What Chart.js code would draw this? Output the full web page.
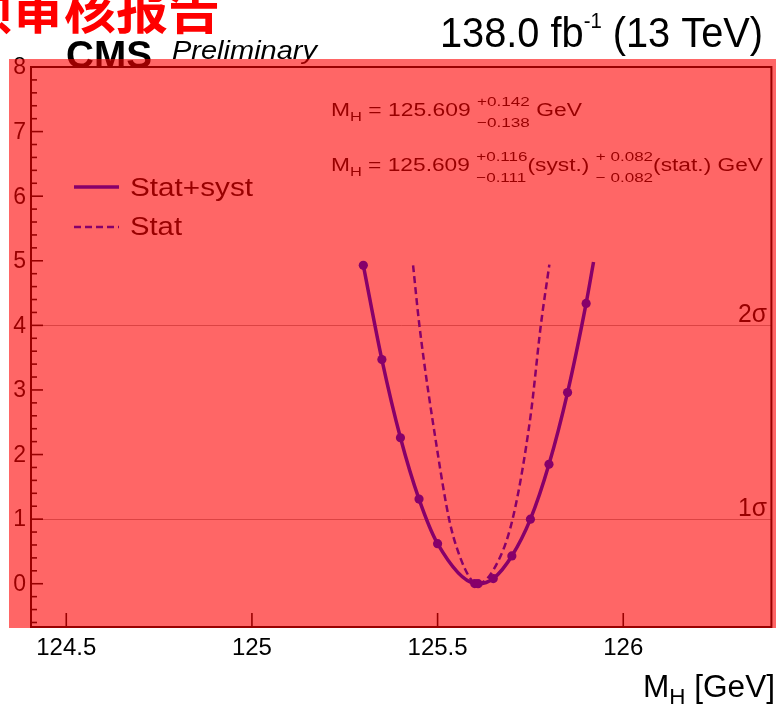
<!DOCTYPE html>
<html>
<head>
<meta charset="utf-8">
<script src="https://cdn.jsdelivr.net/npm/chart.js@4.4.0/dist/chart.umd.min.js"></script>
<style>
  html, body { margin: 0; padding: 0; background: #fff; }
  #wrap { width: 776px; height: 709px; }
</style>
</head>
<body>
<div id="wrap"><canvas id="nllChart" width="776" height="709"></canvas></div>
<script>
// =============================
// DATA
// =============================

// likelihood scan, stat+syst (last entry is the end of the curve, no marker)
const scanMass = [125.30, 125.35, 125.40, 125.45, 125.50, 125.60, 125.609, 125.65, 125.70, 125.75, 125.80, 125.85, 125.90, 125.92];
const scanNll  = [4.93, 3.47, 2.26, 1.31, 0.62, 0.003, 0.0, 0.08, 0.43, 1.00, 1.85, 2.96, 4.34, 4.98];
const scanMarker = [1, 1, 1, 1, 1, 1, 1, 1, 1, 1, 1, 1, 1, 0];

// stat-only scan
const statMass = [125.434, 125.451, 125.499, 125.531, 125.555, 125.593, 125.607, 125.651, 125.702, 125.750, 125.778, 125.801];
const statNll  = [4.93, 4.00, 2.07, 1.00, 0.50, 0.04, 0.00, 0.22, 1.00, 2.58, 4.00, 4.94];

const xTicks = [124.5, 125, 125.5, 126];
const yTicks = [0, 1, 2, 3, 4, 5, 6, 7, 8];
const sigmaLevels = [1, 4];
const sigmaLabels = ['1σ', '2σ'];

const xRange = [124.405, 126.399];
const yRange = [-0.67, 8];

const PURPLE = '#87006a';
const FONT = "'Liberation Sans', Arial, sans-serif";


// =============================
// TEXT HELPERS
// =============================

function fontOf(s) {
  return (s.style || '') + ' ' + s.size + 'px ' + FONT;
}

function segWidth(ctx, s) {
  ctx.font = fontOf(s);
  if (s.up !== undefined) {
    return Math.max(ctx.measureText(s.up).width, ctx.measureText(s.down).width);
  }
  return ctx.measureText(s.text).width;
}

// draws a run of text pieces (sub/superscripts, stacked errors), stretched to a given width
function drawRich(ctx, segs, x, y, width, align) {
  const natural = segs.reduce((w, s) => w + segWidth(ctx, s), 0);
  const sx = width ? width / natural : 1;
  ctx.save();
  ctx.translate(align === 'right' ? x - natural * sx : x, y);
  ctx.scale(sx, 1);
  ctx.textAlign = 'left';
  ctx.textBaseline = 'alphabetic';
  let cx = 0;
  segs.forEach(s => {
    const w = segWidth(ctx, s);
    ctx.font = fontOf(s);
    if (s.up !== undefined) {
      ctx.fillText(s.up, cx, s.dyUp);
      ctx.fillText(s.down, cx, s.dyDown);
    } else {
      ctx.fillText(s.text, cx, s.dy || 0);
    }
    cx += w;
  });
  ctx.restore();
}


// =============================
// FRAME, AXES AND LABELS
// =============================

const framePlugin = {
  id: 'rootFrame',

  beforeDatasetsDraw(chart) {
    const { ctx, chartArea: area, scales: { x, y } } = chart;
    ctx.save();

    // 1 and 2 sigma lines
    ctx.strokeStyle = '#a8a8a8';
    ctx.lineWidth = 1;
    sigmaLevels.forEach((lvl, i) => {
      const py = Math.round(y.getPixelForValue(lvl)) + 0.5;
      ctx.beginPath();
      ctx.moveTo(area.left, py);
      ctx.lineTo(area.right, py);
      ctx.stroke();
      ctx.fillStyle = '#000';
      drawRich(ctx, [{ text: sigmaLabels[i], size: 25 }], 767, py - 4, 29, 'right');
    });

    // frame
    ctx.strokeStyle = '#000';
    ctx.lineWidth = 2;
    ctx.strokeRect(area.left, area.top, area.right - area.left, area.bottom - area.top);

    // y ticks, minor every 0.2
    ctx.lineWidth = 1.6;
    for (let k = Math.ceil(yRange[0] * 5); k <= yRange[1] * 5; k++) {
      const py = y.getPixelForValue(k / 5);
      const len = k % 5 === 0 ? 12 : 6;
      ctx.beginPath();
      ctx.moveTo(area.left, py);
      ctx.lineTo(area.left + len, py);
      ctx.stroke();
    }

    // x ticks
    xTicks.forEach(v => {
      const px = x.getPixelForValue(v);
      ctx.beginPath();
      ctx.moveTo(px, area.bottom);
      ctx.lineTo(px, area.bottom - 14);
      ctx.stroke();
    });

    // tick labels
    ctx.fillStyle = '#000';
    ctx.font = '23px ' + FONT;
    ctx.textAlign = 'right';
    ctx.textBaseline = 'middle';
    yTicks.forEach(v => ctx.fillText(String(v), 26, y.getPixelForValue(v) + 1));

    ctx.font = '24px ' + FONT;
    ctx.textAlign = 'center';
    ctx.textBaseline = 'alphabetic';
    xTicks.forEach(v => ctx.fillText(String(v), x.getPixelForValue(v), 655));

    // axis title
    drawRich(ctx, [
      { text: 'M', size: 31 },
      { text: 'H', size: 22, dy: 7 },
      { text: ' [GeV]', size: 31 }
    ], 775, 697, 132, 'right');

    // CMS Preliminary
    drawRich(ctx, [{ text: 'CMS', size: 39, style: 'bold' }], 66, 68, 86);
    drawRich(ctx, [{ text: 'Preliminary', size: 25, style: 'italic' }], 172, 59, 145);

    // luminosity
    drawRich(ctx, [
      { text: '138.0 fb', size: 43 },
      { text: '-1', size: 22, dy: -19 },
      { text: ' (13 TeV)', size: 43 }
    ], 763, 47, 323, 'right');

    // fit results
    drawRich(ctx, [
      { text: 'M', size: 18 },
      { text: 'H', size: 13, dy: 5 },
      { text: ' = 125.609 ', size: 18 },
      { up: '+0.142', down: '\u22120.138', size: 13.5, dyUp: -10.5, dyDown: 11 },
      { text: ' GeV', size: 18 }
    ], 331, 116, 251);

    drawRich(ctx, [
      { text: 'M', size: 18 },
      { text: 'H', size: 13, dy: 5 },
      { text: ' = 125.609 ', size: 18 },
      { up: '+0.116', down: '\u22120.111', size: 13.5, dyUp: -10.5, dyDown: 11 },
      { text: '(syst.) ', size: 18 },
      { up: '+ 0.082', down: '\u2212 0.082', size: 13.5, dyUp: -10.5, dyDown: 11 },
      { text: '(stat.) GeV', size: 18 }
    ], 331, 171, 432);

    // legend text
    drawRich(ctx, [{ text: 'Stat+syst', size: 25 }], 130, 196, 123);
    drawRich(ctx, [{ text: 'Stat', size: 25 }], 130, 235, 52);

    // red wash over the pad
    ctx.fillStyle = 'rgba(255, 0, 0, 0.6)';
    ctx.fillRect(9, 59, 767, 569);

    // stamp at the top
    ctx.fillStyle = '#ff0000';
    ctx.font = "bold 52px 'Noto Sans CJK SC'";
    ctx.textAlign = 'left';
    ctx.textBaseline = 'alphabetic';
    ctx.fillText('预审核报告', -40, 29);

    ctx.restore();
  },

  afterDatasetsDraw(chart) {
    const { ctx } = chart;
    ctx.save();
    ctx.strokeStyle = PURPLE;

    // legend samples
    ctx.lineWidth = 3.5;
    ctx.beginPath();
    ctx.moveTo(74, 187);
    ctx.lineTo(119, 187);
    ctx.stroke();

    ctx.lineWidth = 2.5;
    ctx.setLineDash([7, 4]);
    ctx.beginPath();
    ctx.moveTo(74, 227);
    ctx.lineTo(119, 227);
    ctx.stroke();

    ctx.restore();
  }
};


// =============================
// CHART
// =============================

const ctx = document.getElementById('nllChart');

new Chart(ctx, {

  type: 'scatter',

  data: {
    datasets: [{
      label: 'Stat+syst',
      data: scanMass.map((m, i) => ({ x: m, y: scanNll[i] })),
      showLine: true,
      borderColor: PURPLE,
      borderWidth: 3.5,
      backgroundColor: PURPLE,
      pointRadius: scanMarker.map(f => f ? 4.6 : 0),
      pointBorderWidth: 0,
      cubicInterpolationMode: 'monotone'
    }, {
      label: 'Stat',
      data: statMass.map((m, i) => ({ x: m, y: statNll[i] })),
      showLine: true,
      borderColor: PURPLE,
      borderWidth: 2.5,
      borderDash: [7, 4],
      pointRadius: 0,
      cubicInterpolationMode: 'monotone'
    }]
  },

  options: {
    responsive: false,
    animation: false,
    devicePixelRatio: 1,
    layout: {
      padding: { left: 31, top: 67, right: 1, bottom: 82 }
    },
    plugins: {
      legend: { display: false },
      tooltip: { enabled: false }
    },
    scales: {
      x: { type: 'linear', min: xRange[0], max: xRange[1], display: false },
      y: { type: 'linear', min: yRange[0], max: yRange[1], display: false }
    }
  },

  plugins: [framePlugin]

});
</script>
</body>
</html>
